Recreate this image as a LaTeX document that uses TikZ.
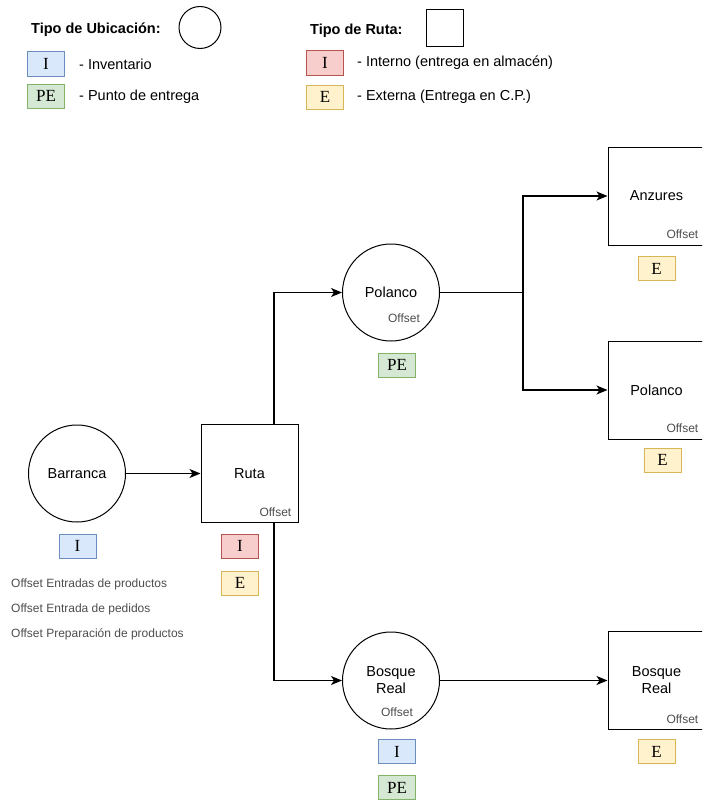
\documentclass[tikz,border=0pt]{standalone}
\usepackage{fontspec}
\setmainfont{Liberation Sans}
\newfontfamily\badgefont{Liberation Serif}
\usetikzlibrary{arrows.meta,calc}
\definecolor{invfill}{HTML}{DAE8FC}
\definecolor{invdraw}{HTML}{6C8EBF}
\definecolor{pefill}{HTML}{D5E8D4}
\definecolor{pedraw}{HTML}{82B366}
\definecolor{intfill}{HTML}{F8CECC}
\definecolor{intdraw}{HTML}{B85450}
\definecolor{extfill}{HTML}{FFF2CC}
\definecolor{extdraw}{HTML}{D6B656}
\definecolor{offgray}{HTML}{4D4D4D}
\begin{document}
\begin{tikzpicture}[x=1pt,y=-1pt,
  ttl/.style={inner sep=0pt,font=\bfseries\fontsize{14.5}{17}\selectfont,anchor=west},
  leg/.style={inner sep=0pt,font=\fontsize{14.5}{17}\selectfont,anchor=west},
  loc/.style={circle,draw=black,line width=1pt,minimum size=97pt,inner sep=0pt,font=\fontsize{14.5}{17}\selectfont,align=center},
  route/.style={rectangle,draw=black,line width=1pt,minimum width=97pt,minimum height=98pt,inner sep=0pt,font=\fontsize{14.5}{17}\selectfont,align=center},
  badge/.style={rectangle,line width=1pt,minimum width=37pt,minimum height=24pt,inner sep=0pt,font=\badgefont\fontsize{17}{17}\selectfont},
  binv/.style={badge,fill=invfill,draw=invdraw},
  bpe/.style={badge,fill=pefill,draw=pedraw},
  bint/.style={badge,fill=intfill,draw=intdraw},
  bext/.style={badge,fill=extfill,draw=extdraw},
  offs/.style={inner sep=0pt,font=\fontsize{12}{14}\selectfont,text=offgray},
  conn/.style={line width=1.1pt,-{Stealth[length=11pt,width=9pt,inset=3pt]}},
  plain/.style={line width=1.1pt}
]
\useasboundingbox (0,0) rectangle (702,800);
\clip (0,0) rectangle (702,800);

% Legend
\node[ttl] (tu) at (31,30) {Tipo de Ubicación:};
\node[circle,draw=black,line width=1pt,minimum size=42pt,inner sep=0pt] (lc) at (200,27.5) {};
\node[ttl] (tr) at (310,31) {Tipo de Ruta:};
\node[rectangle,draw=black,line width=1pt,minimum width=37pt,minimum height=37pt,inner sep=0pt] (ls) at (444.5,28.5) {};

\node[binv] (lbi) at (46,64) {I};
\node[leg] (lti) at (79,64) {- Inventario};
\node[bpe] (lbp) at (46,96) {PE};
\node[leg] (ltp) at (79,97) {- Punto de entrega};
\node[bint] (lbr) at (325,63) {I};
\node[leg] (ltr) at (357,63) {- Interno (entrega en almacén)};
\node[bext] (lbe) at (325,97) {E};
\node[leg] (lte) at (357,97) {- Externa (Entrega en C.P.)};

% Main nodes
\node[loc] (bar) at (77,473.5) {Barranca};
\node[route] (ruta) at (249.5,473.5) {Ruta};
\node[loc] (pol) at (391,292.5) {Polanco};
\node[loc] (bos) at (391,680.5) {Bosque\\Real};
\node[route] (anz) at (656.5,196) {Anzures};
\node[route] (polb) at (656.5,390) {Polanco};
\node[route] (bosb) at (656.5,680.5) {Bosque\\Real};

% Offset labels
\node[offs,anchor=east] (ruo) at ([shift={(-7,-11)}]ruta.south east) {Offset};
\node[offs,anchor=east] (anzo) at ([shift={(-7,-11)}]anz.south east) {Offset};
\node[offs,anchor=east] (polbo) at ([shift={(-7,-11)}]polb.south east) {Offset};
\node[offs,anchor=east] (bosbo) at ([shift={(-7,-11)}]bosb.south east) {Offset};
\node[offs] (polo) at ([shift={(13,26)}]pol.center) {Offset};
\node[offs] (boso) at ([shift={(6,31.5)}]bos.center) {Offset};

% Badges
\node[binv] (bbar) at (77.5,546) {I};
\node[bint] (brui) at (240,546) {I};
\node[bext] (brue) at (240,583) {E};
\node[bpe] (bpol) at (397,365) {PE};
\node[bext] (banz) at (656.5,268.5) {E};
\node[bext] (bpolb) at (662.5,460) {E};
\node[binv] (bbosi) at (397,751.5) {I};
\node[bpe] (bbosp) at (397,787.5) {PE};
\node[bext] (bbosb) at (656.5,751.5) {E};

% Notes
\node[offs,anchor=west] (n1) at (11,584) {Offset Entradas de productos};
\node[offs,anchor=west] (n2) at (11,609) {Offset Entrada de pedidos};
\node[offs,anchor=west] (n3) at (11,634) {Offset Preparación de productos};

% Connectors
\coordinate (rtop) at ($(ruta.north west)!0.75!(ruta.north east)$);
\coordinate (rbot) at ($(ruta.south west)!0.75!(ruta.south east)$);
\coordinate (fork) at (523,292.5);
\draw[conn] (bar.east) -- (ruta.west);
\draw[conn] (rtop) |- (pol.west);
\draw[conn] (rbot) |- (bos.west);
\draw[plain] (pol.east) -- (fork);
\draw[conn] (fork) |- (anz.west);
\draw[conn] (fork) |- (polb.west);
\draw[conn] (bos.east) -- (bosb.west);
\end{tikzpicture}
\end{document}
